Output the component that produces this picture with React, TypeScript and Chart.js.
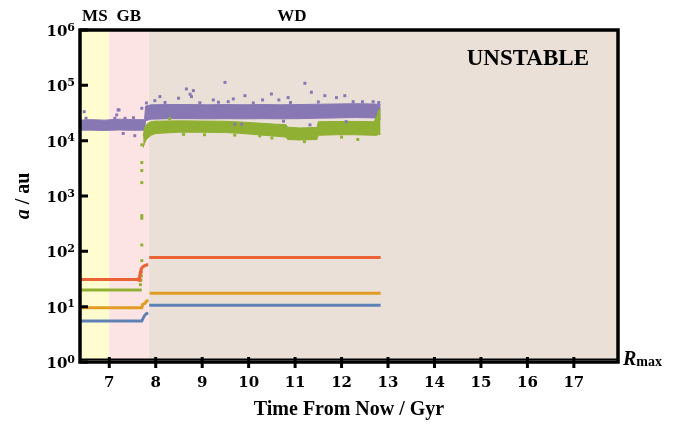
import React, { useEffect, useRef } from 'react';
import { Chart, registerables } from 'chart.js';

Chart.register(...registerables);

// ---- axes / annotations ----
const xTicks = [7, 8, 9, 10, 11, 12, 13, 14, 15, 16, 17];
const yTicks = [1, 10, 100, 1000, 10000, 100000, 1000000];
const xMin = 6.37;
const xMax = 17.95;
const phaseNames = ['MS', 'GB', 'WD'];
const phaseLabelX = [6.69, 7.42, 10.93];
const phaseBounds = [6.37, 7.0, 7.85, 17.95];
const phaseColors = ['#FFFDD0', '#FDE4E4', '#EAE0D7'];
const rMax = 1.12;
const rMaxT = [6.37, 17.95];
const rMaxA = [rMax, rMax];

// ---- inner planets (lines) ----
const blueT = [6.37, 7.70, 7.73, 7.76, 7.80, 7.84, 7.85, 7.86, 12.84];
const blueA = [5.5, 5.5, 6.2, 6.9, 7.5, 7.6, null, 10.6, 10.6];
const orangeT = [6.37, 7.70, 7.72, 7.77, 7.80, 7.84, 7.85, 7.87, 12.84];
const orangeA = [9.6, 9.6, 11.0, 11.5, 12.5, 13.2, null, 17.5, 17.5];
const redT = [6.37, 7.62, 7.63, 7.64, 7.65, 7.66, 7.67, 7.68, 7.70, 7.73, 7.77, 7.81, 7.84, 7.85, 7.86, 12.84];
const redA = [31, 31, 34, 30, 38, 35, 42, 46, 50, 53, 55, 57, 57, null, 77, 77];
const greenLineT = [6.37, 7.70];
const greenLineA = [20, 20];
const greenDotT = [7.67, 7.68, 7.69, 7.69, 7.70, 7.70, 7.70, 7.70, 7.70, 7.70, 7.70, 7.70];
const greenDotA = [25, 30, 36, 43, 68, 130, 397, 442, 1746, 2880, 4020, 8400];

// ---- outer planets (clouds: upper / lower edge of the dense band) ----
const pTime = [6.37, 6.6, 6.9, 7.2, 7.5, 7.76, 7.78, 7.9, 8.3, 8.7, 9.1, 9.5, 9.9, 10.3, 10.7, 11.1, 11.5, 11.9, 12.3, 12.7, 12.84];
const pHigh = [23500, 24000, 23500, 24500, 24000, 24000, 42000, 44500, 45000, 45000, 44500, 45000, 44500, 45000, 44500, 45000, 45500, 46000, 46500, 46000, 45000];
const pLow = [15500, 15500, 15300, 15600, 15400, 15500, 23000, 24500, 25000, 25000, 24800, 25000, 24800, 25000, 24800, 25000, 25500, 25800, 26200, 25800, 24000];

const gTime = [7.73, 7.76, 7.8, 7.85, 7.9, 8.0, 8.5, 9.0, 9.5, 9.8, 10.2, 10.6, 10.8, 10.84, 11.1, 11.47, 11.5, 11.9, 12.3, 12.7, 12.76, 12.8, 12.84];
const gHigh = [12000, 17000, 19500, 21000, 22000, 22500, 22800, 22600, 22400, 21800, 20800, 19800, 19500, 17500, 17000, 17300, 22000, 22200, 22300, 22000, 28000, 36000, 38000];
const gLow = [7500, 9000, 10500, 11500, 12500, 13500, 14200, 14200, 14000, 13600, 12800, 12000, 11600, 10500, 10300, 10500, 12500, 12800, 12800, 12500, 12500, 13000, 13000];

const purpleOutT = [6.46, 6.5, 7.12, 7.16, 7.19, 7.21, 7.34, 7.52, 7.55, 7.3, 7.70, 7.80, 7.98, 8.09, 8.49, 8.66, 8.74, 8.77, 8.81, 9.24, 9.49, 9.56, 9.67, 9.92, 10.3, 10.49, 10.65, 10.85, 11.21, 11.35, 11.64, 11.89, 12.07, 12.25, 12.68, 9.7, 9.85, 10.75, 11.32, 12.1, 8.2, 8.95, 9.35, 10.1, 10.9, 11.5, 12.45, 12.8];
const purpleOutA = [33400, 25400, 25400, 29200, 35900, 35900, 25400, 26000, 12300, 13500, 38500, 48000, 52800, 62500, 58500, 86100, 69000, 62500, 80300, 54500, 113000, 50700, 56800, 65100, 54500, 69800, 54500, 60000, 109000, 75000, 65100, 60000, 65100, 50700, 50700, 19800, 19800, 22500, 19300, 22100, 49000, 48500, 49500, 48000, 49000, 50000, 50500, 49000];
const greenOutT = [10.24, 12.35, 9.05, 8.3, 8.6, 9.7, 10.5, 11.2, 12.0];
const greenOutA = [12200, 10500, 12800, 25000, 13000, 12600, 11200, 9600, 11600];

const C_BLUE = '#5E81B5';
const C_ORANGE = '#E19C24';
const C_GREEN = '#8FB032';
const C_RED = '#EB6235';
const C_PURPLE = '#8778B3';

const pts = (t: number[], a: (number | null)[]) => t.map((v, i) => ({ x: v, y: a[i] }));

const phasePlugin = {
  id: 'phaseBg',
  beforeDatasetsDraw(chart: any) {
    const { ctx, chartArea: a, scales } = chart;
    const x = scales.x;
    ctx.save();
    for (let i = 0; i < phaseColors.length; i++) {
      const x0 = x.getPixelForValue(phaseBounds[i]);
      const x1 = x.getPixelForValue(phaseBounds[i + 1]);
      ctx.fillStyle = phaseColors[i];
      ctx.fillRect(x0, a.top, x1 - x0, a.bottom - a.top);
    }
    ctx.restore();
  },
};

const decoPlugin = {
  id: 'deco',
  afterDraw(chart: any) {
    const { ctx, chartArea: a, scales } = chart;
    const x = scales.x;
    const y = scales.y;
    ctx.save();
    ctx.strokeStyle = '#000';
    ctx.fillStyle = '#000';
    ctx.lineWidth = 3.5;
    ctx.strokeRect(a.left, a.top, a.right - a.left, a.bottom - a.top);
    ctx.lineWidth = 3;
    ctx.beginPath();
    for (const v of yTicks) {
      const py = y.getPixelForValue(v);
      ctx.moveTo(a.left, py);
      ctx.lineTo(a.left + 8, py);
    }
    for (const v of xTicks) {
      const px = x.getPixelForValue(v);
      ctx.moveTo(px, a.bottom - 5);
      ctx.lineTo(px, a.bottom + 6);
    }
    ctx.stroke();

    // y tick labels 10^n
    ctx.textAlign = 'left';
    ctx.textBaseline = 'alphabetic';
    for (const v of yTicks) {
      const py = y.getPixelForValue(v);
      const exp = String(Math.round(Math.log10(v)));
      ctx.font = 'bold 11px "DejaVu Serif"';
      const we = ctx.measureText(exp).width;
      ctx.font = 'bold 15px "DejaVu Serif"';
      const wb = ctx.measureText('10').width;
      const right = a.left - 5;
      ctx.fillText('10', right - we - wb, py + 6);
      ctx.font = 'bold 11px "DejaVu Serif"';
      ctx.fillText(exp, right - we, py + 0.5);
    }

    // y title
    ctx.save();
    ctx.translate(29, (a.top + a.bottom) / 2);
    ctx.rotate(-Math.PI / 2);
    ctx.font = 'italic bold 20px "Liberation Serif"';
    const wA = ctx.measureText('a').width;
    ctx.font = 'bold 20px "Liberation Serif"';
    const wR = ctx.measureText(' / au').width;
    const s = -(wA + wR) / 2;
    ctx.font = 'italic bold 20px "Liberation Serif"';
    ctx.fillText('a', s, 0);
    ctx.font = 'bold 20px "Liberation Serif"';
    ctx.fillText(' / au', s + wA, 0);
    ctx.restore();

    // phase labels
    ctx.font = 'bold 17px "Liberation Serif"';
    ctx.textAlign = 'center';
    for (let i = 0; i < phaseNames.length; i++) {
      ctx.fillText(phaseNames[i], x.getPixelForValue(phaseLabelX[i]), 21);
    }

    // UNSTABLE
    ctx.font = 'bold 23px "Liberation Serif"';
    ctx.textAlign = 'right';
    ctx.fillText('UNSTABLE', a.right - 29, a.top + 35);

    // R_max label
    const ry = y.getPixelForValue(rMax);
    ctx.textAlign = 'left';
    ctx.font = 'italic bold 20px "Liberation Serif"';
    const wRr = ctx.measureText('R').width;
    ctx.fillText('R', a.right + 5, ry + 6);
    ctx.font = 'bold 14px "Liberation Serif"';
    ctx.fillText('max', a.right + 5 + wRr, ry + 7);
    ctx.restore();
  },
};

export default function App() {
  const ref = useRef<HTMLCanvasElement | null>(null);
  useEffect(() => {
    if (!ref.current) return;
    const lineDs = (t: number[], a: (number | null)[], c: string, order: number) => ({
      data: pts(t, a),
      showLine: true,
      borderColor: c,
      backgroundColor: c,
      borderWidth: 3,
      pointRadius: 0,
      spanGaps: false,
      fill: false,
      order,
    });
    const dotDs = (t: number[], a: number[], c: string, order: number) => ({
      data: pts(t, a),
      showLine: false,
      borderColor: c,
      backgroundColor: c,
      borderWidth: 0,
      pointRadius: 2.1,
      pointStyle: 'rect',
      order,
    });
    const bandDs = (t: number[], a: number[], c: string, order: number, fill: any) => ({
      data: pts(t, a),
      showLine: true,
      borderColor: c,
      backgroundColor: c,
      borderWidth: 1,
      pointRadius: 0,
      fill,
      order,
    });
    const chart = new Chart(ref.current, {
      type: 'scatter',
      data: {
        datasets: [
          bandDs(pTime, pLow, C_PURPLE, 20, false),
          bandDs(pTime, pHigh, C_PURPLE, 19, '-1'),
          bandDs(gTime, gLow, C_GREEN, 18, false),
          bandDs(gTime, gHigh, C_GREEN, 17, '-1'),
          dotDs(purpleOutT, purpleOutA, C_PURPLE, 16),
          dotDs(greenOutT, greenOutA, C_GREEN, 15),
          dotDs(greenDotT, greenDotA, C_GREEN, 5),
          lineDs(greenLineT, greenLineA, C_GREEN, 4),
          lineDs(redT, redA, C_RED, 3),
          lineDs(orangeT, orangeA, C_ORANGE, 2),
          lineDs(blueT, blueA, C_BLUE, 1),
          { ...lineDs(rMaxT, rMaxA, '#000', 0), borderWidth: 1.5 },
        ] as any,
      },
      options: {
        animation: false,
        responsive: false,
        layout: { padding: { top: 30, right: 61, left: 0, bottom: 0 } },
        plugins: { legend: { display: false }, tooltip: { enabled: false } },
        scales: {
          x: {
            type: 'linear',
            min: xMin,
            max: xMax,
            grid: { display: false, drawTicks: false },
            border: { display: false },
            afterBuildTicks: (s: any) => {
              s.ticks = xTicks.map((v) => ({ value: v }));
            },
            afterFit: (s: any) => {
              s.height = 66;
            },
            ticks: {
              font: { family: 'DejaVu Serif', weight: 'bold', size: 15 },
              color: '#000',
              padding: 12,
              maxRotation: 0,
              autoSkip: false,
            },
            title: {
              display: true,
              text: 'Time From Now / Gyr',
              font: { family: 'Liberation Serif', weight: 'bold', size: 20 },
              color: '#000',
              padding: { top: 0, bottom: 6 },
            },
          },
          y: {
            type: 'logarithmic',
            min: 1,
            max: 1000000,
            grid: { display: false, drawTicks: false },
            border: { display: false },
            afterBuildTicks: (s: any) => {
              s.ticks = yTicks.map((v) => ({ value: v }));
            },
            afterFit: (s: any) => {
              s.width = 80;
            },
            ticks: { display: false },
          },
        },
      } as any,
      plugins: [phasePlugin, decoPlugin],
    });
    return () => chart.destroy();
  }, []);
  return (
    <div style={{ position: 'absolute', left: 0, top: 0, width: 679, height: 428, background: '#fff' }}>
      <canvas ref={ref} width={679} height={428} style={{ display: 'block' }} />
    </div>
  );
}
